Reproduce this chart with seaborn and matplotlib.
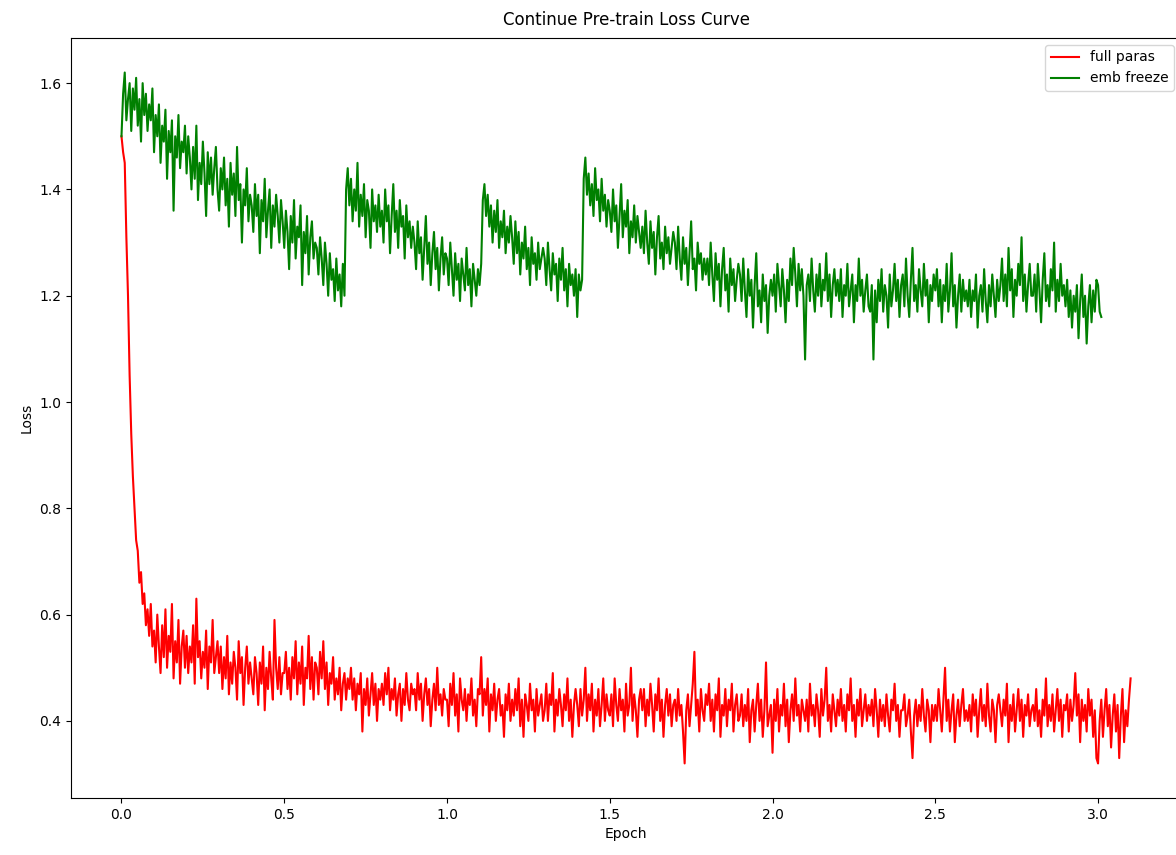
import numpy as np
import pandas as pd
import matplotlib
matplotlib.use("Agg")
import matplotlib.pyplot as plt
import seaborn as sns

epoch_step = 0.005

full_paras_loss = [
    1.50, 1.47, 1.45, 1.31, 1.20, 1.05, 0.94, 0.86, 0.80, 0.74, 0.72, 0.66, 0.68, 0.62, 0.64, 0.58, 0.61, 0.56, 0.62, 0.54,
    0.57, 0.51, 0.60, 0.54, 0.49, 0.58, 0.52, 0.61, 0.50, 0.56, 0.53, 0.62, 0.48, 0.55, 0.51, 0.59, 0.47, 0.54, 0.57, 0.50,
    0.56, 0.49, 0.54, 0.51, 0.58, 0.47, 0.63, 0.52, 0.55, 0.48, 0.53, 0.50, 0.57, 0.46, 0.54, 0.51, 0.59, 0.49, 0.52, 0.55,
    0.49, 0.54, 0.46, 0.52, 0.48, 0.56, 0.45, 0.51, 0.47, 0.53, 0.50, 0.44, 0.55, 0.49, 0.52, 0.43, 0.50, 0.54, 0.47, 0.51,
    0.48, 0.45, 0.52, 0.49, 0.43, 0.51, 0.47, 0.54, 0.42, 0.50, 0.46, 0.53, 0.48, 0.44, 0.59, 0.50, 0.46, 0.52, 0.45, 0.49,
    0.49, 0.53, 0.46, 0.50, 0.44, 0.52, 0.48, 0.55, 0.45, 0.51, 0.47, 0.54, 0.43, 0.50, 0.48, 0.56, 0.46, 0.52, 0.44, 0.51,
    0.50, 0.45, 0.53, 0.48, 0.55, 0.46, 0.51, 0.43, 0.49, 0.47, 0.52, 0.44, 0.48, 0.45, 0.50, 0.42, 0.47, 0.49, 0.44, 0.48,
    0.46, 0.50, 0.44, 0.48, 0.42, 0.47, 0.45, 0.49, 0.38, 0.46, 0.43, 0.48, 0.41, 0.45, 0.49, 0.43, 0.47, 0.40, 0.46, 0.44,
    0.47, 0.43, 0.49, 0.45, 0.50, 0.42, 0.46, 0.44, 0.48, 0.41, 0.45, 0.47, 0.40, 0.46, 0.43, 0.49, 0.44, 0.42, 0.47, 0.45,
    0.46, 0.42, 0.49, 0.44, 0.47, 0.40, 0.45, 0.48, 0.43, 0.46, 0.39, 0.44, 0.47, 0.42, 0.50, 0.43, 0.45, 0.41, 0.46, 0.44,
    0.44, 0.39, 0.47, 0.43, 0.49, 0.41, 0.45, 0.38, 0.48, 0.44, 0.42, 0.46, 0.40, 0.45, 0.43, 0.48, 0.41, 0.44, 0.39, 0.46,
    0.45, 0.52, 0.41, 0.46, 0.43, 0.48, 0.38, 0.45, 0.42, 0.47, 0.40, 0.44, 0.46, 0.41, 0.43, 0.37, 0.45, 0.42, 0.47, 0.40,
    0.44, 0.41, 0.46, 0.42, 0.48, 0.39, 0.44, 0.37, 0.45, 0.43, 0.40, 0.47, 0.42, 0.44, 0.38, 0.46, 0.41, 0.43, 0.45, 0.40,
    0.42, 0.47, 0.40, 0.45, 0.43, 0.49, 0.38, 0.44, 0.41, 0.46, 0.43, 0.39, 0.45, 0.42, 0.48, 0.40, 0.44, 0.37, 0.43, 0.46,
    0.43, 0.39, 0.46, 0.41, 0.44, 0.50, 0.40, 0.45, 0.42, 0.47, 0.38, 0.44, 0.41, 0.46, 0.39, 0.43, 0.48, 0.40, 0.45, 0.42,
    0.41, 0.45, 0.39, 0.48, 0.43, 0.40, 0.46, 0.42, 0.44, 0.38, 0.47, 0.41, 0.43, 0.50, 0.40, 0.45, 0.42, 0.37, 0.44, 0.46,
    0.42, 0.46, 0.39, 0.44, 0.41, 0.47, 0.43, 0.38, 0.45, 0.42, 0.48, 0.40, 0.44, 0.37, 0.43, 0.46, 0.41, 0.45, 0.39, 0.43,
    0.44, 0.40, 0.46, 0.41, 0.43, 0.38, 0.32, 0.42, 0.45, 0.39, 0.43, 0.47, 0.53, 0.41, 0.44, 0.38, 0.46, 0.42, 0.40, 0.45,
    0.43, 0.47, 0.40, 0.44, 0.38, 0.45, 0.42, 0.48, 0.37, 0.43, 0.41, 0.46, 0.39, 0.44, 0.42, 0.47, 0.38, 0.43, 0.45, 0.40,
    0.41, 0.45, 0.39, 0.43, 0.40, 0.46, 0.36, 0.42, 0.44, 0.38, 0.43, 0.47, 0.40, 0.44, 0.37, 0.42, 0.51, 0.39, 0.41, 0.43,
    0.34, 0.44, 0.40, 0.46, 0.38, 0.43, 0.41, 0.47, 0.39, 0.44, 0.36, 0.42, 0.45, 0.40, 0.48, 0.41, 0.43, 0.38, 0.44, 0.42,
    0.40, 0.44, 0.38, 0.47, 0.41, 0.43, 0.39, 0.45, 0.42, 0.37, 0.46, 0.41, 0.44, 0.50, 0.40, 0.43, 0.38, 0.45, 0.42, 0.39,
    0.44, 0.41, 0.46, 0.40, 0.43, 0.38, 0.45, 0.42, 0.48, 0.40, 0.43, 0.37, 0.44, 0.41, 0.46, 0.39, 0.42, 0.45, 0.40, 0.43,
    0.41, 0.44, 0.39, 0.46, 0.42, 0.37, 0.44, 0.40, 0.43, 0.39, 0.45, 0.41, 0.38, 0.44, 0.42, 0.47, 0.40, 0.43, 0.37, 0.42,
    0.42, 0.45, 0.39, 0.41, 0.44, 0.38, 0.33, 0.41, 0.44, 0.39, 0.43, 0.40, 0.46, 0.41, 0.38, 0.44, 0.42, 0.36, 0.43, 0.40,
    0.43, 0.40, 0.46, 0.42, 0.38, 0.44, 0.50, 0.40, 0.44, 0.38, 0.42, 0.45, 0.36, 0.41, 0.44, 0.39, 0.43, 0.46, 0.40, 0.42,
    0.40, 0.43, 0.38, 0.45, 0.41, 0.44, 0.37, 0.42, 0.46, 0.40, 0.43, 0.39, 0.47, 0.41, 0.38, 0.44, 0.42, 0.36, 0.43, 0.45,
    0.42, 0.39, 0.44, 0.41, 0.47, 0.36, 0.43, 0.40, 0.45, 0.38, 0.42, 0.46, 0.40, 0.44, 0.37, 0.43, 0.41, 0.45, 0.39, 0.42,
    0.43, 0.40, 0.46, 0.39, 0.42, 0.37, 0.44, 0.41, 0.48, 0.39, 0.43, 0.40, 0.45, 0.38, 0.42, 0.46, 0.40, 0.44, 0.37, 0.43,
    0.42, 0.45, 0.38, 0.44, 0.40, 0.43, 0.49, 0.41, 0.45, 0.36, 0.44, 0.40, 0.43, 0.38, 0.46, 0.41, 0.44, 0.37, 0.42, 0.33,
    0.32, 0.40, 0.44, 0.37, 0.42, 0.46, 0.39, 0.43, 0.35, 0.41, 0.45, 0.38, 0.43, 0.33, 0.41, 0.46, 0.36, 0.42, 0.39, 0.44,
    0.48,
]

emb_freeze_loss = [
    1.50, 1.58, 1.62, 1.53, 1.57, 1.60, 1.51, 1.59, 1.55, 1.61, 1.52, 1.57, 1.49, 1.60, 1.54, 1.58, 1.51, 1.56, 1.53, 1.59,
    1.47, 1.54, 1.50, 1.56, 1.45, 1.52, 1.49, 1.55, 1.42, 1.51, 1.47, 1.53, 1.36, 1.50, 1.46, 1.54, 1.44, 1.49, 1.47, 1.52,
    1.43, 1.50, 1.46, 1.40, 1.48, 1.42, 1.52, 1.38, 1.45, 1.41, 1.49, 1.43, 1.35, 1.47, 1.41, 1.46, 1.39, 1.44, 1.48, 1.40,
    1.36, 1.44, 1.40, 1.46, 1.37, 1.42, 1.33, 1.45, 1.39, 1.43, 1.35, 1.48, 1.38, 1.41, 1.30, 1.40, 1.37, 1.44, 1.34, 1.39,
    1.37, 1.32, 1.41, 1.35, 1.39, 1.28, 1.38, 1.34, 1.42, 1.31, 1.36, 1.40, 1.29, 1.37, 1.33, 1.39, 1.35, 1.30, 1.38, 1.34,
    1.29, 1.36, 1.32, 1.25, 1.35, 1.30, 1.38, 1.27, 1.33, 1.31, 1.37, 1.22, 1.32, 1.28, 1.35, 1.24, 1.31, 1.34, 1.27, 1.30,
    1.29, 1.24, 1.31, 1.27, 1.22, 1.30, 1.26, 1.20, 1.28, 1.23, 1.25, 1.19, 1.27, 1.21, 1.24, 1.18, 1.26, 1.20, 1.40, 1.44,
    1.37, 1.42, 1.34, 1.40, 1.36, 1.45, 1.33, 1.39, 1.35, 1.41, 1.31, 1.38, 1.36, 1.29, 1.40, 1.34, 1.37, 1.32, 1.39, 1.33,
    1.36, 1.30, 1.40, 1.34, 1.37, 1.28, 1.35, 1.41, 1.32, 1.36, 1.29, 1.38, 1.33, 1.35, 1.27, 1.37, 1.31, 1.34, 1.29, 1.33,
    1.30, 1.25, 1.34, 1.28, 1.31, 1.23, 1.29, 1.35, 1.26, 1.30, 1.22, 1.28, 1.32, 1.25, 1.29, 1.21, 1.27, 1.31, 1.24, 1.28,
    1.27, 1.22, 1.30, 1.25, 1.20, 1.28, 1.23, 1.26, 1.19, 1.27, 1.24, 1.21, 1.29, 1.22, 1.25, 1.18, 1.26, 1.23, 1.20, 1.25,
    1.22, 1.26, 1.38, 1.41, 1.35, 1.39, 1.33, 1.37, 1.30, 1.36, 1.32, 1.38, 1.29, 1.34, 1.31, 1.36, 1.28, 1.33, 1.30, 1.35,
    1.31, 1.26, 1.34, 1.28, 1.32, 1.24, 1.30, 1.27, 1.33, 1.25, 1.29, 1.22, 1.31, 1.26, 1.28, 1.23, 1.30, 1.25, 1.27, 1.29,
    1.27, 1.22, 1.30, 1.25, 1.21, 1.28, 1.24, 1.26, 1.19, 1.27, 1.23, 1.29, 1.21, 1.25, 1.18, 1.26, 1.22, 1.24, 1.20, 1.25,
    1.16, 1.24, 1.21, 1.23, 1.42, 1.46, 1.39, 1.43, 1.37, 1.41, 1.35, 1.44, 1.38, 1.40, 1.34, 1.42, 1.36, 1.39, 1.33, 1.38,
    1.36, 1.32, 1.40, 1.34, 1.37, 1.29, 1.35, 1.41, 1.31, 1.36, 1.33, 1.38, 1.28, 1.34, 1.31, 1.37, 1.30, 1.35, 1.32, 1.29,
    1.33, 1.28, 1.36, 1.30, 1.26, 1.34, 1.29, 1.32, 1.24, 1.31, 1.35, 1.27, 1.30, 1.25, 1.33, 1.28, 1.31, 1.26, 1.29, 1.32,
    1.30, 1.25, 1.33, 1.27, 1.23, 1.31, 1.26, 1.29, 1.22, 1.28, 1.34, 1.25, 1.27, 1.21, 1.30, 1.26, 1.28, 1.23, 1.27, 1.24,
    1.27, 1.22, 1.30, 1.24, 1.19, 1.28, 1.23, 1.26, 1.18, 1.25, 1.29, 1.21, 1.24, 1.17, 1.27, 1.22, 1.25, 1.19, 1.23, 1.26,
    1.24, 1.19, 1.27, 1.21, 1.16, 1.25, 1.20, 1.23, 1.14, 1.22, 1.28, 1.18, 1.21, 1.15, 1.24, 1.19, 1.22, 1.13, 1.20, 1.23,
    1.20, 1.24, 1.17, 1.26, 1.22, 1.18, 1.25, 1.21, 1.15, 1.23, 1.19, 1.27, 1.22, 1.29, 1.24, 1.18, 1.26, 1.21, 1.25, 1.20,
    1.08, 1.22, 1.24, 1.19, 1.27, 1.21, 1.17, 1.24, 1.20, 1.26, 1.18, 1.23, 1.21, 1.28, 1.19, 1.24, 1.16, 1.22, 1.25, 1.20,
    1.23, 1.19, 1.25, 1.16, 1.22, 1.20, 1.26, 1.18, 1.21, 1.24, 1.15, 1.22, 1.19, 1.27, 1.20, 1.23, 1.17, 1.21, 1.24, 1.18,
    1.17, 1.22, 1.08, 1.21, 1.15, 1.23, 1.19, 1.25, 1.17, 1.22, 1.20, 1.14, 1.24, 1.18, 1.21, 1.26, 1.19, 1.23, 1.16, 1.22,
    1.24, 1.18, 1.27, 1.20, 1.16, 1.23, 1.29, 1.19, 1.22, 1.17, 1.25, 1.21, 1.18, 1.26, 1.20, 1.23, 1.15, 1.22, 1.19, 1.24,
    1.21, 1.25, 1.18, 1.23, 1.15, 1.22, 1.19, 1.26, 1.17, 1.21, 1.28, 1.18, 1.22, 1.14, 1.20, 1.24, 1.17, 1.23, 1.19, 1.21,
    1.18, 1.23, 1.16, 1.21, 1.19, 1.24, 1.14, 1.20, 1.22, 1.17, 1.25, 1.19, 1.15, 1.22, 1.18, 1.24, 1.20, 1.16, 1.23, 1.19,
    1.22, 1.27, 1.19, 1.24, 1.18, 1.29, 1.21, 1.25, 1.16, 1.23, 1.20, 1.26, 1.22, 1.31, 1.19, 1.24, 1.17, 1.22, 1.26, 1.20,
    1.20, 1.24, 1.17, 1.26, 1.21, 1.15, 1.23, 1.28, 1.19, 1.22, 1.18, 1.25, 1.21, 1.30, 1.17, 1.23, 1.19, 1.26, 1.20, 1.22,
    1.18, 1.23, 1.16, 1.21, 1.14, 1.20, 1.17, 1.22, 1.12, 1.19, 1.24, 1.16, 1.20, 1.11, 1.18, 1.22, 1.15, 1.21, 1.17, 1.23,
    1.22, 1.17, 1.16,
]

full_df = pd.DataFrame({
    "epoch": np.arange(len(full_paras_loss)) * epoch_step,
    "loss": full_paras_loss,
})
emb_df = pd.DataFrame({
    "epoch": np.arange(len(emb_freeze_loss)) * epoch_step,
    "loss": emb_freeze_loss,
})

fig = plt.figure(figsize=(11.76, 8.55), dpi=100)
# the right edge of the axes sits just past the picture edge, as in the source
ax = fig.add_axes([0.0604, 0.0667, 0.9439, 0.8889])

sns.lineplot(data=full_df, x="epoch", y="loss", color="red", label="full paras",
             estimator=None, linewidth=1.5, ax=ax)
sns.lineplot(data=emb_df, x="epoch", y="loss", color="green", label="emb freeze",
             estimator=None, linewidth=1.5, ax=ax)

ax.set_title("Continue Pre-train Loss Curve", fontsize=12, pad=9.5)
ax.set_xlabel("Epoch")
ax.set_ylabel("Loss")
ax.legend(loc="upper right")

fig.savefig("out.png", dpi=100)
